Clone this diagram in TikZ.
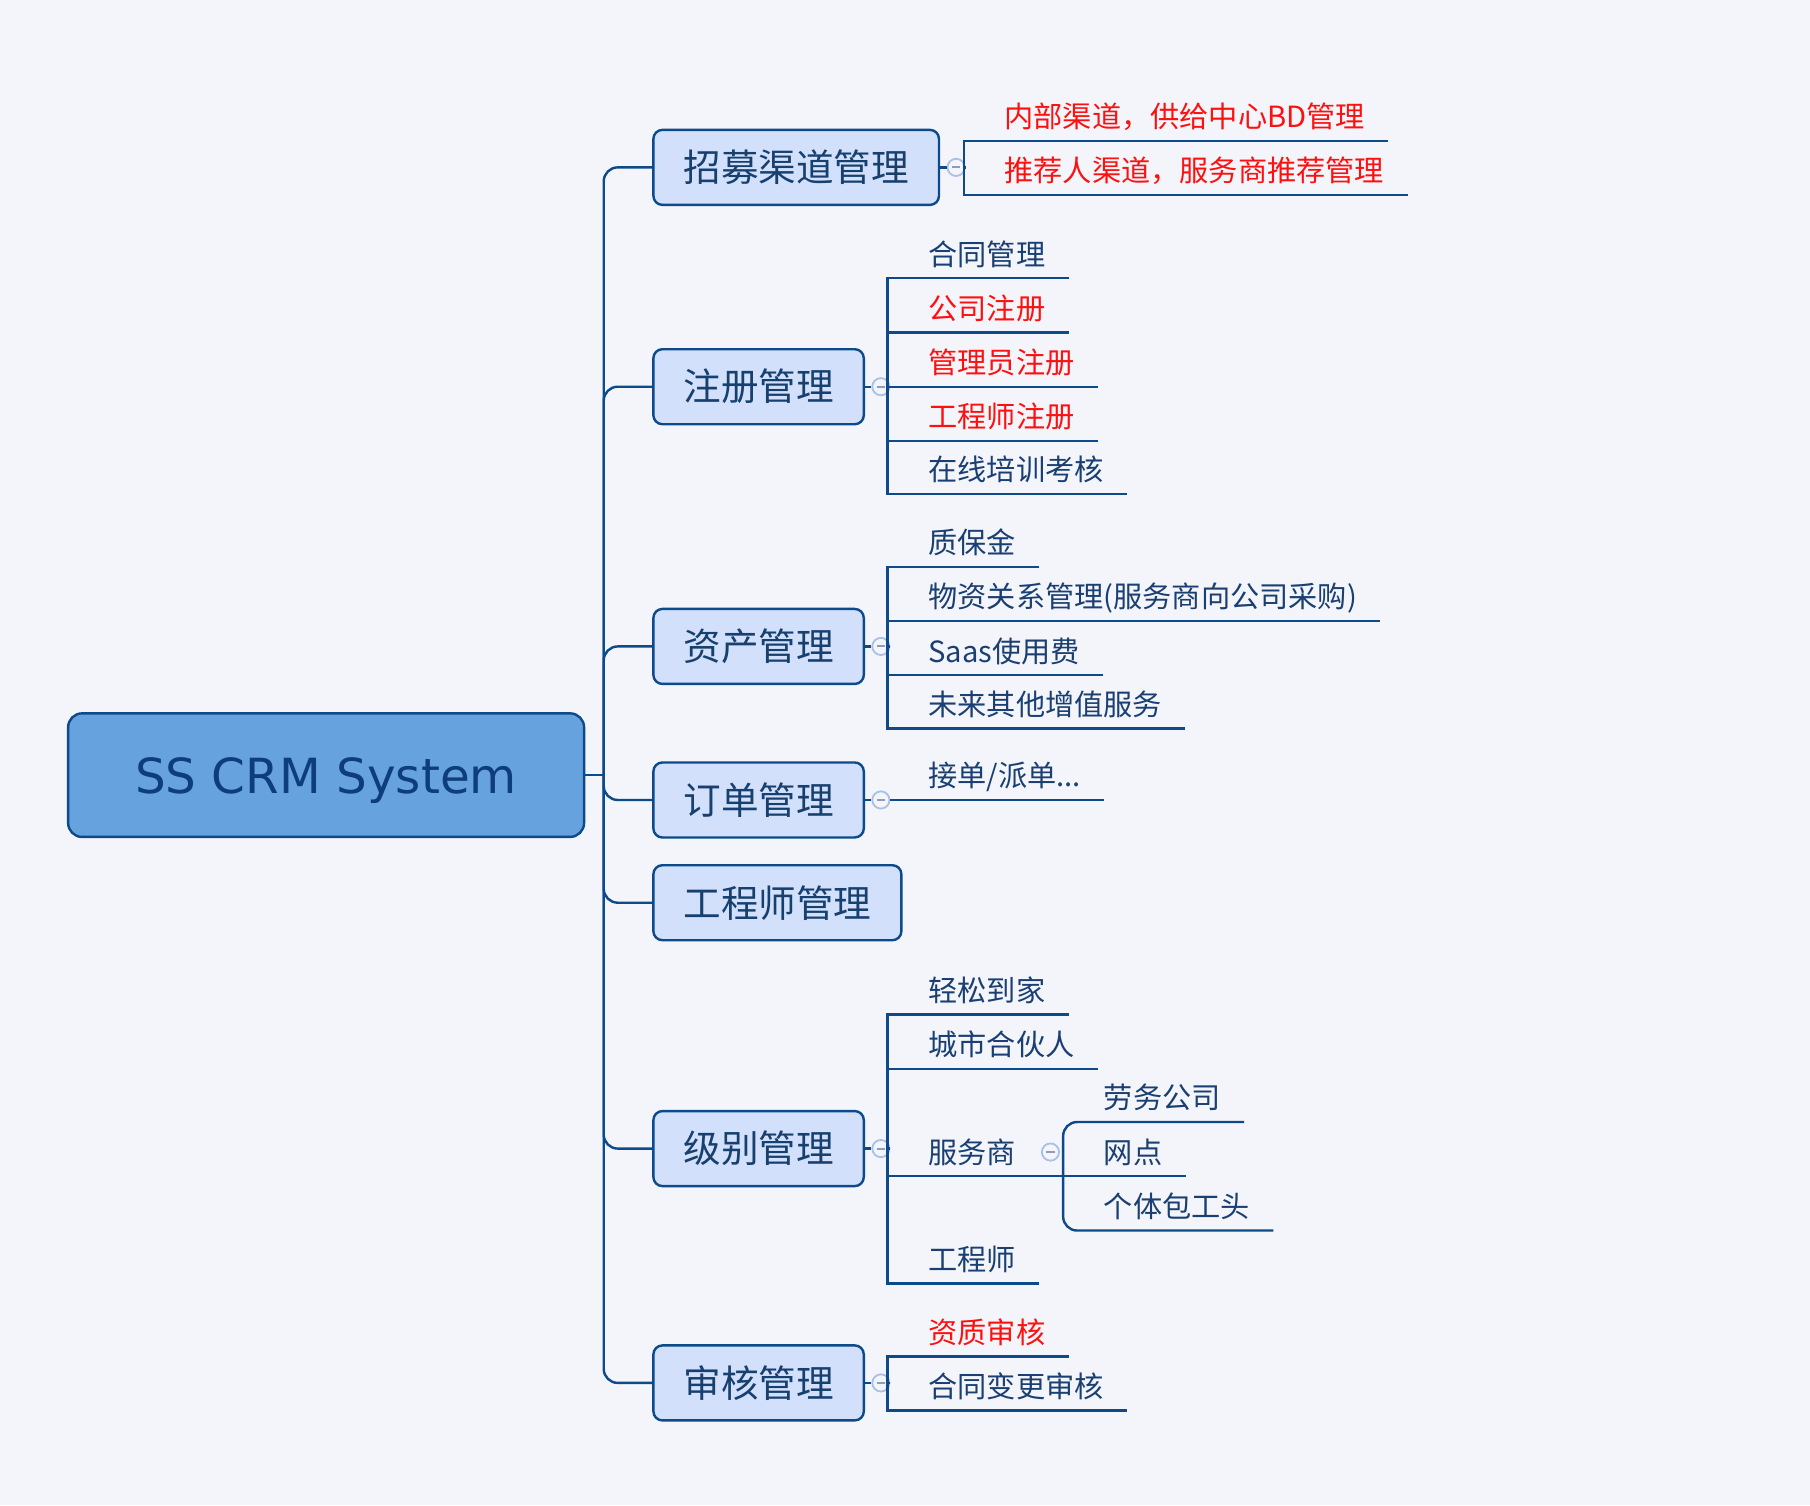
\documentclass[tikz,border=0pt]{standalone}
\usepackage{fontspec}
\setmainfont{Noto Sans CJK SC}
\newfontfamily\rootfont{DejaVu Sans}
\usetikzlibrary{positioning}
\definecolor{bgcol}{HTML}{F3F5FA}
\definecolor{linecol}{HTML}{0C4A8A}
\definecolor{rootfill}{HTML}{66A2DE}
\definecolor{rootcol}{HTML}{0D3D7B}
\definecolor{topicfill}{HTML}{D2E0FB}
\definecolor{topiccol}{HTML}{17406F}
\definecolor{leafcol}{HTML}{1A3F72}
\definecolor{redtxt}{HTML}{FF1010}
\definecolor{knobcol}{HTML}{A9C0E8}
\definecolor{minuscol}{HTML}{8D9DBA}
\tikzstyle{root} = [draw=linecol, line width=1.2pt, fill=rootfill, rounded corners=7pt,
    minimum width=258pt, minimum height=61.8pt, text depth=0pt, text=rootcol,
    font=\rootfont\fontsize{24.2}{28}\selectfont]
\tikzstyle{topic} = [draw=linecol, line width=1.2pt, fill=topicfill, rounded corners=4.5pt,
    anchor=west, inner xsep=15pt, minimum height=37.5pt, text=topiccol,
    font=\fontsize{18.8}{22}\selectfont]
\tikzstyle{leaf} = [anchor=south west, inner xsep=11.5pt, inner ysep=0pt, text depth=6.4pt,
    text=leafcol, font=\fontsize{14.6}{17}\selectfont]
\tikzstyle{hot} = [text=redtxt]
\tikzstyle{branch} = [draw=linecol, line width=1.2pt]
\tikzstyle{knob} = [circle, draw=knobcol, line width=0.9pt, fill=bgcol, inner sep=0pt,
    minimum size=8.6pt, path picture={\draw[minuscol, line width=1pt]
    ([xshift=-2.2pt]path picture bounding box.center) -- ([xshift=2.2pt]path picture bounding box.center);}]

\begin{document}
\begin{tikzpicture}[x=0.5772pt, y=-0.5772pt]
  \fill[bgcol] (0,0) rectangle (1568,1304);
  \useasboundingbox (0,0) rectangle (1568,1304);

  % root and main topics
  \node [root] (crm) at (282.5,671.5) {SS CRM System};
  \coordinate (hub) at (523,671.5);
  \node [topic] (zm) at (565,145) {招募渠道管理};
  \node [topic] (zc) at (565,335) {注册管理};
  \node [topic] (zy) at (565,560) {资产管理};
  \node [topic] (dd) at (565,693) {订单管理};
  \node [topic] (gc) at (565,782) {工程师管理};
  \node [topic] (jb) at (565,995) {级别管理};
  \node [topic] (sh) at (565,1198) {审核管理};
  \draw [branch] (crm) -- (hub);
  \foreach \t in {zm,zc,zy,dd,gc,jb,sh}
    \draw [branch, rounded corners=7pt] (hub) |- (\t.west);

  % collapse knobs
  \node [knob, right=3.2pt of zm] (zmk) {};
  \node [knob, right=3.2pt of zc] (zck) {};
  \node [knob, right=3.2pt of zy] (zyk) {};
  \node [knob, right=3.2pt of dd] (ddk) {};
  \node [knob, right=3.2pt of jb] (jbk) {};
  \node [knob, right=3.2pt of sh] (shk) {};
  \foreach \t in {zm,zc,zy,dd,jb,sh}
    \draw [branch] (\t) -- (\t k);

  % 招募渠道管理
  \node [leaf, hot] (zm1) at (850,122) {内部渠道，供给中心BD管理};
  \node [leaf, hot] (zm2) at (850,169) {推荐人渠道，服务商推荐管理};
  \draw [branch] (zm1.south east) -| (835,169) -- (zm2.south east);
  \draw [branch] (zmk) -- (835,145);

  % 注册管理
  \node [leaf] (zc1) at (784,241) {合同管理};
  \node [leaf, hot] (zc2) at (784,288) {公司注册};
  \node [leaf, hot] (zc3) at (784,335) {管理员注册};
  \node [leaf, hot] (zc4) at (784,382) {工程师注册};
  \node [leaf] (zc5) at (784,428) {在线培训考核};
  \draw [branch] (zc1.south east) -| (769,428) -- (zc5.south east);
  \foreach \n in {2,3,4}
    \draw [branch] (zc\n.south east) -- (zc\n.south west) -- +(-15,0);
  \draw [branch] (zck) -- (769,335);

  % 资产管理
  \node [leaf] (zy1) at (784,491) {质保金};
  \node [leaf] (zy2) at (784,538) {物资关系管理(服务商向公司采购)};
  \node [leaf] (zy3) at (784,585) {Saas使用费};
  \node [leaf] (zy4) at (784,631) {未来其他增值服务};
  \draw [branch] (zy1.south east) -| (769,631) -- (zy4.south east);
  \foreach \n in {2,3}
    \draw [branch] (zy\n.south east) -- (zy\n.south west) -- +(-15,0);
  \draw [branch] (zyk) -- (769,560);

  % 订单管理
  \node [leaf] (dd1) at (784,693) {接单/派单...};
  \draw [branch] (ddk) -- (dd1.south east);

  % 级别管理
  \node [leaf] (jb1) at (784,879) {轻松到家};
  \node [leaf] (jb2) at (784,926) {城市合伙人};
  \node [leaf] (jb3) at (784,1019) {服务商};
  \node [leaf] (jb4) at (784,1112) {工程师};
  \draw [branch] (jb1.south east) -| (769,1112) -- (jb4.south east);
  \draw [branch] (jb2.south east) -- (jb2.south west) -- +(-15,0);
  \coordinate (fw) at (921,1019);
  \draw [branch] (jb3.south west) ++(-15,0) -- (fw);
  \draw [branch] (jbk) -- (769,995);
  \node [knob] (jb3k) at (910,998) {};
  \node [leaf] (fw1) at (936,972) {劳务公司};
  \node [leaf] (fw2) at (936,1019) {网点};
  \node [leaf] (fw3) at (936,1066) {个体包工头};
  \draw [branch, rounded corners=7pt] (fw1.south east) -| (fw) |- (fw3.south east);
  \draw [branch] (fw) -- (fw2.south east);

  % 审核管理
  \node [leaf, hot] (sh1) at (784,1175) {资质审核};
  \node [leaf] (sh2) at (784,1222) {合同变更审核};
  \draw [branch] (sh1.south east) -| (769,1222) -- (sh2.south east);
  \draw [branch] (shk) -- (769,1198);
\end{tikzpicture}
\end{document}
